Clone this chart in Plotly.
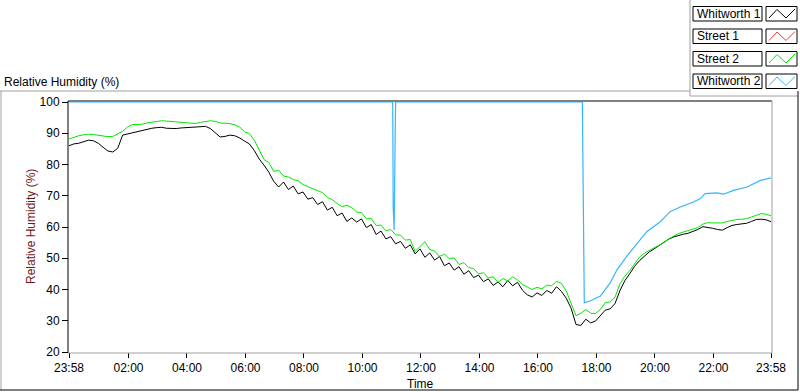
import plotly.graph_objects as go
import pandas as pd

# ---------------- data ----------------
start_time = "2010-01-01 23:58"
end_time = "2010-01-02 23:58"
sample_step_min = 10  # logger sample interval used for the readings below

whitworth1 = [
    86.0, 86.6, 86.8, 87.3, 87.8, 87.6, 86.8, 85.5, 84.3, 84.0,
    85.2, 89.4, 89.8, 90.0, 90.5, 90.8, 91.2, 91.6, 91.8, 91.9,
    91.6, 91.5, 91.5, 91.7, 91.8, 92.0, 92.1, 92.3, 92.2, 91.5,
    90.0, 88.8, 89.0, 89.4, 89.2, 88.5, 87.5, 86.6, 84.5, 81.8,
    79.8, 77.5, 74.6, 72.8, 74.4, 72.0, 73.1, 70.6, 71.2, 68.9,
    69.4, 67.2, 68.1, 65.4, 66.3, 63.6, 64.5, 61.8, 62.9, 61.6,
    62.6, 59.8, 60.8, 57.6, 58.7, 56.2, 56.9, 54.6, 55.4, 53.2,
    54.3, 51.4, 53.0, 50.3, 51.7, 49.4, 50.6, 47.6, 48.5, 46.2,
    47.3, 44.9, 46.0, 43.8, 44.6, 42.5, 43.4, 41.3, 42.4, 40.9,
    42.9, 41.2, 42.3, 39.8, 38.3, 37.6, 38.9, 38.1, 39.7, 38.8,
    40.9, 39.4, 37.2, 34.0, 28.8, 28.5, 30.5, 29.3, 29.9, 31.8,
    33.4, 33.8, 35.5, 39.6, 42.8, 45.0, 47.4, 49.2, 50.7, 52.0,
    53.0, 54.0, 55.0, 56.1, 56.8, 57.3, 57.7, 58.0, 58.5, 59.2,
    60.1, 59.9, 59.6, 59.2, 59.0, 59.8, 60.5, 60.8, 61.0, 61.2,
    61.8, 62.4, 62.5, 62.3, 61.7,
]

street1 = []  # no data plotted

street2 = [
    88.2, 88.8, 89.2, 89.5, 89.7, 89.6, 89.4, 89.1, 88.9, 89.0,
    89.8, 90.6, 92.0, 92.8, 92.8, 92.9, 93.3, 93.6, 93.9, 94.0,
    93.9, 93.8, 93.7, 93.5, 93.4, 93.2, 93.1, 93.5, 93.8, 94.0,
    93.8, 93.3, 93.2, 93.1, 92.7, 92.0, 90.5, 89.9, 87.8, 84.5,
    81.6, 80.6, 77.8, 78.2, 76.3, 76.0, 75.2, 74.8, 73.6, 72.9,
    72.2, 71.5, 71.0, 69.4, 68.8, 67.5, 66.5, 67.0, 66.2, 64.8,
    64.6, 62.6, 62.7, 60.5, 60.6, 58.8, 59.2, 57.5, 57.4, 55.8,
    56.0, 52.2, 53.6, 55.3, 52.8, 52.3, 50.6, 51.3, 49.9, 50.1,
    48.0, 48.6, 47.0, 46.7, 45.0, 45.4, 43.7, 44.1, 42.3, 43.5,
    42.8, 44.0, 43.1, 41.6, 40.8, 40.0, 40.7, 40.2, 41.4, 41.2,
    42.6, 42.0, 39.5, 35.8, 31.6, 32.4, 33.6, 32.4, 32.3, 33.6,
    35.8, 36.0, 37.5, 41.8, 44.2, 46.0, 48.2, 50.3, 51.6, 52.5,
    53.4, 54.1, 55.0, 56.2, 57.0, 57.9, 58.4, 58.8, 59.3, 59.8,
    60.9, 61.4, 61.3, 61.2, 61.3, 61.8, 62.2, 62.4, 62.5, 62.7,
    63.2, 63.8, 64.3, 64.1, 63.6,
]

# Whitworth 2: minutes after start, and readings
whitworth2_min = [0, 664, 665, 667, 669, 670, 1053, 1055, 1057, 1069, 1090,
                  1110, 1124, 1144, 1165, 1185, 1213, 1233, 1254, 1281, 1295,
                  1305, 1329, 1343, 1363, 1391, 1418, 1440]
whitworth2 = [100, 100, 66.4, 59.0, 89.0, 100, 100, 65.4, 35.8, 36.3, 37.9,
              42.1, 46.3, 50.6, 54.8, 58.5, 61.7, 64.9, 66.4, 68.0, 69.1,
              70.7, 70.9, 70.5, 71.7, 72.8, 74.9, 75.7]

series_names = ["Whitworth 1", "Street 1", "Street 2", "Whitworth 2"]
series_colors = ["#000000", "#ff3030", "#00e800", "#33b5ff"]

x_tick_times = ["2010-01-01 23:58", "2010-01-02 02:00", "2010-01-02 04:00",
                "2010-01-02 06:00", "2010-01-02 08:00", "2010-01-02 10:00",
                "2010-01-02 12:00", "2010-01-02 14:00", "2010-01-02 16:00",
                "2010-01-02 18:00", "2010-01-02 20:00", "2010-01-02 22:00",
                "2010-01-02 23:58"]
x_tick_labels = ["23:58", "02:00", "04:00", "06:00", "08:00", "10:00", "12:00",
                 "14:00", "16:00", "18:00", "20:00", "22:00", "23:58"]
minor_tick0 = "2010-01-02 02:00"
minor_step_min = 120 / 7  # 7 minor intervals per 2 hours
y_ticks = [20, 30, 40, 50, 60, 70, 80, 90, 100]

# ---------------- build ----------------
t0 = pd.Timestamp(start_time)
t_end = pd.Timestamp(end_time)
span = (t_end - t0).total_seconds()
grid_times = [t0 + pd.Timedelta(minutes=sample_step_min * i) for i in range(len(whitworth1))]
w2_times = [t0 + pd.Timedelta(minutes=m) for m in whitworth2_min]

# minor tick times
minor_times = []
_mt0 = pd.Timestamp(minor_tick0)
_k = 0
while _mt0 - pd.Timedelta(minutes=minor_step_min * (_k + 1)) >= t0:
    _k += 1
_m = _mt0 - pd.Timedelta(minutes=minor_step_min * _k)
while _m <= t_end:
    minor_times.append(_m)
    _m = _m + pd.Timedelta(minutes=minor_step_min)

FONT = "Liberation Sans, Arial, sans-serif"
W, H = 800, 392
L, R, T, B = 69, 771, 102, 352  # plot area in pixels
PW, PH = R - L, B - T


def px(x):
    return (x - L) / PW


def py(y):
    return (B - y) / PH


fig = go.Figure()
fig.add_trace(go.Scatter(x=grid_times, y=whitworth1, mode="lines", name=series_names[0],
                         line=dict(color=series_colors[0], width=1)))
fig.add_trace(go.Scatter(x=grid_times[:len(street1)], y=street1, mode="lines", name=series_names[1],
                         line=dict(color=series_colors[1], width=1)))
fig.add_trace(go.Scatter(x=grid_times, y=street2, mode="lines", name=series_names[2],
                         line=dict(color=series_colors[2], width=1)))
fig.add_trace(go.Scatter(x=w2_times, y=whitworth2, mode="lines", name=series_names[3],
                         line=dict(color=series_colors[3], width=1.2)))

# minor tick marks: line-ns markers drawn just below the plot area (not clipped)
fig.add_trace(go.Scatter(x=minor_times, y=[18.9] * len(minor_times), mode="markers",
                         marker=dict(symbol="line-ns", size=4,
                                     line=dict(color="#000000", width=1)),
                         cliponaxis=False, hoverinfo="skip", showlegend=False))

shapes = []


def seg(x0, y0, x1, y1, color, width=1):
    shapes.append(dict(type="line", xref="paper", yref="paper",
                       x0=px(x0), y0=py(y0), x1=px(x1), y1=py(y1),
                       line=dict(color=color, width=width), layer="above"))


GRAY = "#a0a0a0"
# plot frame
seg(68, 101, 772, 101, "#000000")
seg(68, 101, 68, 353, "#000000")
seg(772, 101, 772, 353, GRAY)
seg(68, 353, 772, 353, GRAY)
# outer panel lines
seg(0, 91, 690, 91, GRAY)
seg(690, 0, 690, 96, GRAY)
seg(690, 96, 798, 96, GRAY)
seg(1, 91, 1, 390, GRAY)
seg(0, 390, 798, 390, "#000000")
seg(798, 91, 798, 390, "#000000")

annotations = []
# legend boxes
row_tops = [6.5, 29, 51.5, 74]
for name, color, top in zip(series_names, series_colors, row_tops):
    bot = top + 14.5
    shapes.append(dict(type="rect", xref="paper", yref="paper",
                       x0=px(693), x1=px(762), y0=py(bot), y1=py(top),
                       line=dict(color="#000000", width=1), fillcolor="white"))
    shapes.append(dict(type="rect", xref="paper", yref="paper",
                       x0=px(766), x1=px(797), y0=py(bot), y1=py(top),
                       line=dict(color="#000000", width=1), fillcolor="white"))
    zx = [769, 777, 786, 795]
    zy = [bot - 3, top + 3, bot - 3, top + 2.5]
    path = "M {} {} L {} {} L {} {} L {} {}".format(
        px(zx[0]), py(zy[0]), px(zx[1]), py(zy[1]), px(zx[2]), py(zy[2]), px(zx[3]), py(zy[3]))
    shapes.append(dict(type="path", xref="paper", yref="paper", path=path,
                       line=dict(color=color, width=1)))
    annotations.append(dict(text=name, xref="paper", yref="paper", x=px(695), y=py((top + bot) / 2),
                            xanchor="left", yanchor="middle", showarrow=False,
                            font=dict(family=FONT, size=12, color="#000000")))

# labels
annotations.append(dict(text="Relative Humidity (%)", xref="paper", yref="paper",
                        x=px(2), y=py(82.5), xanchor="left", yanchor="middle", showarrow=False,
                        font=dict(family=FONT, size=12, color="#000000")))
annotations.append(dict(text="Relative Humidity (%)", xref="paper", yref="paper",
                        x=px(31), y=py(227), xanchor="center", yanchor="middle", showarrow=False,
                        textangle=-90, font=dict(family=FONT, size=12, color="#701818")))
annotations.append(dict(text="Time", xref="paper", yref="paper",
                        x=px(420), y=py(384), xanchor="center", yanchor="middle", showarrow=False,
                        font=dict(family=FONT, size=12, color="#000000")))

fig.update_layout(
    width=W, height=H, autosize=False,
    margin=dict(l=L, r=W - R, t=T, b=H - B, pad=0),
    paper_bgcolor="white", plot_bgcolor="white",
    showlegend=False,
    shapes=shapes, annotations=annotations,
    font=dict(family=FONT, size=12, color="#000000"),
    xaxis=dict(
        type="date", range=[start_time, end_time],
        tickmode="array", tickvals=x_tick_times, ticktext=x_tick_labels,
        ticks="outside", ticklen=5, tickwidth=1, tickcolor="#000000",
        showgrid=False, zeroline=False, showline=False,
        tickfont=dict(family=FONT, size=12, color="#000000"),
    ),
    yaxis=dict(
        range=[20, 100], tickmode="array", tickvals=y_ticks,
        ticks="outside", ticklen=6, tickwidth=1, tickcolor="#000000",
        showgrid=False, zeroline=False, showline=False,
        tickfont=dict(family=FONT, size=12, color="#000000"),
    ),
)

fig.write_html("out.html", config={"displayModeBar": False},
               post_script="document.body.style.margin='0';document.body.style.overflow='hidden';")
